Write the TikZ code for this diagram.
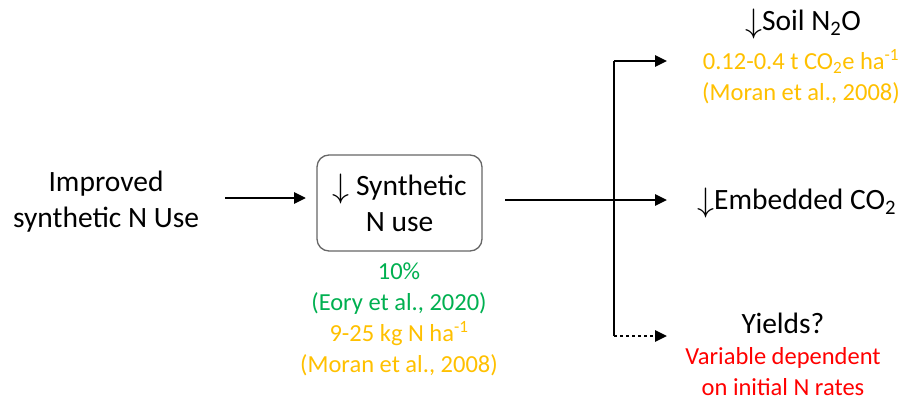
\RequirePackage{fix-cm}
\documentclass[tikz,border=0pt]{standalone}
\usepackage{fontspec}
\setmainfont{Carlito}
\usetikzlibrary{arrows.meta}
\definecolor{cgreen}{HTML}{00B050}
\definecolor{corange}{HTML}{FFC000}
\definecolor{cred}{HTML}{FF0000}
\newcommand{\dnarrow}{\raisebox{-0.06em}{\scalebox{1.15}{$\downarrow$}}}
\begin{document}
\begin{tikzpicture}[x=1pt,y=-1pt,
  bigtxt/.style={align=center,inner sep=0pt,font=\fontsize{29.5}{36}\selectfont},
  smalltxt/.style={align=center,inner sep=0pt,font=\fontsize{24.5}{31}\selectfont},
  conn/.style={line width=2.8pt,-{Triangle[length=12pt,width=11pt]}},
  plain/.style={line width=2.8pt}]
\useasboundingbox (0,0) rectangle (909,401);
\node[bigtxt] (imp) at (106,202) {Improved\\synthetic N Use};
\node[draw=gray!80!black,line width=1.3pt,rounded corners=12pt,minimum width=165pt,minimum height=96pt,
  align=center,inner sep=0pt,font=\fontsize{29.5}{36}\selectfont] (box) at (399.5,203) {\dnarrow{} Synthetic\\N use};
\node[smalltxt] (boxnote) at (399,319) {\textcolor{cgreen}{10\%}\\\textcolor{cgreen}{(Eory et al., 2020)}\\\textcolor{corange}{9-25 kg N ha\textsuperscript{-1}}\\\textcolor{corange}{(Moran et al., 2008)}};
\node[bigtxt] (soil) at (803,24) {\dnarrow Soil N\textsubscript{2}O};
\node[smalltxt] (soilnote) at (801,77) {\textcolor{corange}{0.12-0.4 t CO\textsubscript{2}e ha\textsuperscript{-1}}\\\textcolor{corange}{(Moran et al., 2008)}};
\node[bigtxt,anchor=west] (emb) at (697,203) {\dnarrow Embedded CO\textsubscript{2}};
\node[bigtxt] (yld) at (783,323) {Yields?};
\node[smalltxt,text=cred] (yldnote) at (783,372) {Variable dependent\\on initial N rates};
\coordinate (a1) at (225,198);
\coordinate (a2) at (306,198);
\coordinate (b1) at (505,200);
\coordinate (j) at (614,200);
\coordinate (jt) at (614,61);
\coordinate (jb) at (614,336);
\coordinate (et) at (667,61);
\coordinate (em) at (667,200);
\coordinate (eb) at (667,336);
\draw[conn] (a1) -- (a2);
\draw[conn] (b1) -- (em);
\draw[plain] (jb) -- (jt);
\draw[conn] (jt) -- (et);
\draw[line width=2.8pt,dash pattern=on 3pt off 3pt] (jb) -- ([xshift=-11pt]eb);
\draw[line width=2.8pt,-{Triangle[length=12pt,width=11pt]}] ([xshift=-12pt]eb) -- (eb);
\end{tikzpicture}
\end{document}
